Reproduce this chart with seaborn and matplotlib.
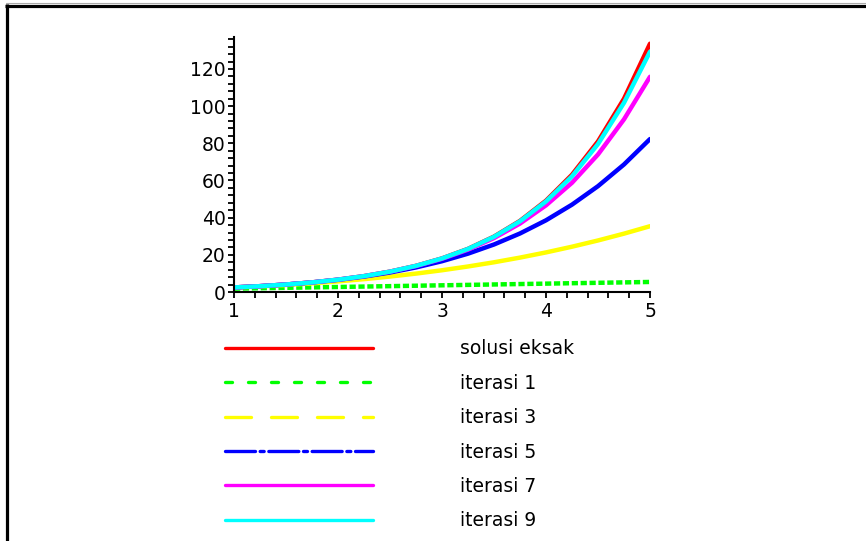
import numpy as np
import pandas as pd
import matplotlib
matplotlib.use("Agg")
import matplotlib.pyplot as plt
from matplotlib.lines import Line2D
from matplotlib.ticker import MultipleLocator
import seaborn as sns

# ---- data ----
x_vals = [1.0, 1.25, 1.5, 1.75, 2.0, 2.25, 2.5, 2.75, 3.0, 3.25, 3.5, 3.75,
          4.0, 4.25, 4.5, 4.75, 5.0]
solusi_eksak = [2.45, 3.14, 4.03, 5.18, 6.65, 8.54, 10.96, 14.08, 18.08, 23.21,
                29.81, 38.27, 49.14, 63.10, 81.02, 104.0, 133.6]
iterasi_1 = [1.8, 2.03, 2.25, 2.48, 2.7, 2.93, 3.15, 3.38, 3.6, 3.83, 4.05,
             4.28, 4.5, 4.73, 4.95, 5.18, 5.4]
iterasi_3 = [2.40, 3.02, 3.77, 4.66, 5.70, 6.91, 8.31, 9.90, 11.7, 13.73,
             15.99, 18.51, 21.3, 24.37, 27.73, 31.40, 35.4]
iterasi_5 = [2.45, 3.14, 4.02, 5.13, 6.54, 8.31, 10.50, 13.22, 16.56, 20.63,
             25.56, 31.49, 38.58, 47.0, 56.95, 68.62, 82.3]
iterasi_7 = [2.45, 3.14, 4.03, 5.18, 6.64, 8.52, 10.92, 13.98, 17.86, 22.79,
             29.01, 36.83, 46.63, 58.77, 74.0, 92.9, 115.8]
iterasi_9 = [2.45, 3.14, 4.03, 5.18, 6.65, 8.54, 10.96, 14.08, 18.06, 23.17,
             29.71, 38.07, 48.74, 62.25, 79.63, 101.8, 129.3]

labels = ["solusi eksak", "iterasi 1", "iterasi 3", "iterasi 5", "iterasi 7", "iterasi 9"]
colors = ["#ff0000", "#00ff00", "#ffff00", "#0000ff", "#ff00ff", "#00ffff"]
series = [solusi_eksak, iterasi_1, iterasi_3, iterasi_5, iterasi_7, iterasi_9]
x_ticks = [1, 2, 3, 4, 5]
y_ticks = [0, 20, 40, 60, 80, 100, 120]

sns.set_style("white")
plt.rcParams['font.family'] = ['DejaVu Sans']
plt.rcParams['text.color'] = 'black'

FS = 13.5
fig = plt.figure(figsize=(8.66, 5.41), dpi=100)
ax = fig.add_axes([234 / 866, 1 - 292 / 541, 416 / 866, 255 / 541])

# in-plot line looks (dash patterns as they appear inside the plot)
plot_dashes = [None, (1.4, 0.6), None, None, None, None]
lw = 3.2
for lab, col, ys, d in zip(labels, colors, series, plot_dashes):
    df = pd.DataFrame({"x": x_vals, "y": ys})
    sns.lineplot(data=df, x="x", y="y", color=col, linewidth=lw, ax=ax,
                 legend=False, solid_capstyle="round", dash_capstyle="butt")
    ax.lines[-1].set_linestyle("-" if d is None else (0, d))

ax.set_xlim(1, 5)
ax.set_ylim(0, 137.2)
ax.set_xticks(x_ticks)
ax.set_yticks(y_ticks)
ax.xaxis.set_minor_locator(MultipleLocator(0.2))
ax.yaxis.set_minor_locator(MultipleLocator(4))
ax.set_xlabel("")
ax.set_ylabel("")
for s in ["top", "right"]:
    ax.spines[s].set_visible(False)
for s in ["left", "bottom"]:
    ax.spines[s].set_color("black")
    ax.spines[s].set_linewidth(1.5)
ax.tick_params(which="both", direction="out", length=4, width=1.3, color="black",
               bottom=True, left=True)
ax.tick_params(axis="x", which="major", labelsize=FS, pad=3, colors="black")
ax.tick_params(axis="y", which="major", labelsize=FS, pad=2, colors="black")
ax.grid(False)

# legend (patterns as in the reference legend)
legend_styles = ["-", (0, (2.1, 4.8)), (0, (7.8, 6.0)), (0, (9, 1.4, 1.2, 1.4)), "-", "-"]
handles = [Line2D([0], [0], color=c, lw=2.4, linestyle=ls, dash_capstyle="round",
                  solid_capstyle="round")
           for c, ls in zip(colors, legend_styles)]
fs_px = FS * 100 / 72
fig.legend(handles, labels, loc="upper left",
           bbox_to_anchor=(225 / 866, 1 - 339.5 / 541),
           frameon=False, fontsize=FS, borderpad=0, borderaxespad=0,
           handlelength=148 / fs_px, handletextpad=(460 - 373) / fs_px,
           labelspacing=0.82, labelcolor="black")

# picture border (top and left edges)
fig.add_artist(Line2D([6 / 866, 1], [1 - 3 / 541, 1 - 3 / 541], color="#aaaaaa",
                      lw=0.8, transform=fig.transFigure))
fig.add_artist(Line2D([5 / 866, 1], [1 - 5.5 / 541, 1 - 5.5 / 541], color="black",
                      lw=2.3, transform=fig.transFigure, solid_capstyle="butt"))
fig.add_artist(Line2D([6.5 / 866, 6.5 / 866], [0, 1 - 4 / 541], color="black",
                      lw=2.3, transform=fig.transFigure, solid_capstyle="butt"))

fig.savefig("out.png", dpi=100)
